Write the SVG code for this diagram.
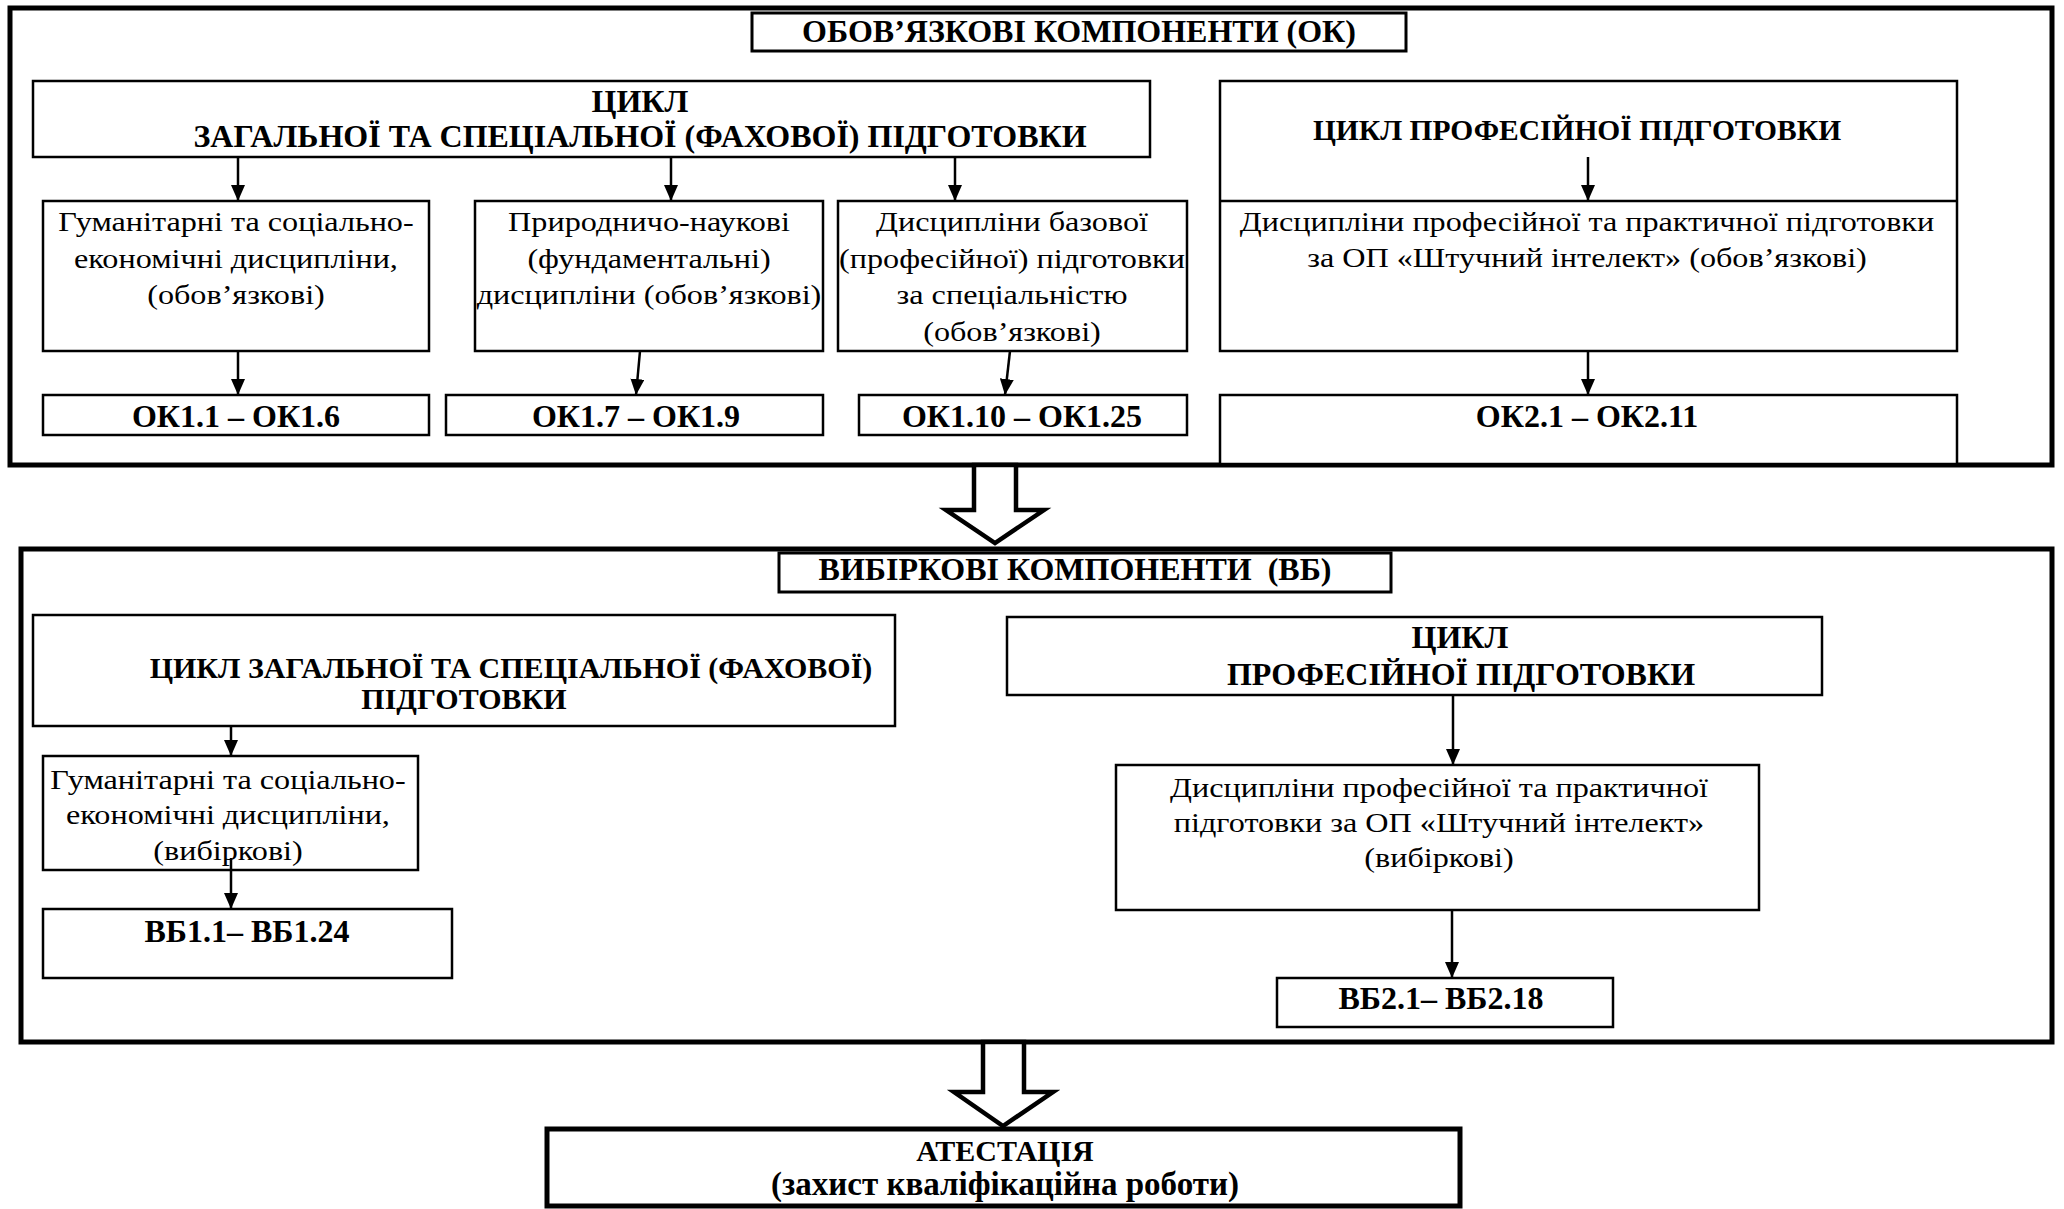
<svg xmlns="http://www.w3.org/2000/svg" width="2064" height="1209" viewBox="0 0 2064 1209">
<style>
.outer{fill:#fff;stroke:#000;stroke-width:5}
.box{fill:#fff;stroke:#000;stroke-width:2.5}
.tbox{fill:#fff;stroke:#000;stroke-width:3}
.hollow{fill:#fff;stroke:#000;stroke-width:4.5;stroke-linejoin:miter}
.b{font-family:"Liberation Serif","Times New Roman",serif;font-weight:bold;font-size:32px;text-anchor:middle;fill:#000}
.r{font-family:"Liberation Serif","Times New Roman",serif;font-size:28px;text-anchor:middle;fill:#000}
.conn line{stroke:#000;stroke-width:2.5;marker-end:url(#ah)}
</style>
<defs>
<marker id="ah" markerUnits="userSpaceOnUse" markerWidth="16" markerHeight="14" refX="16" refY="7" orient="auto">
<path d="M0,0 L16,7 L0,14 z" fill="#000"/>
</marker>
</defs>
<rect width="2064" height="1209" fill="#fff"/>

<g id="ok-section">
<rect class="outer" x="10" y="8" width="2042" height="457"/>
</g>
<g id="ok-title">
<rect class="tbox" x="752" y="13" width="654" height="38"/>
<text class="b" x="1079" y="42">ОБОВ’ЯЗКОВІ КОМПОНЕНТИ (ОК)</text>
</g>
<g id="ok-cycle1">
<rect class="box" x="33" y="81" width="1117" height="76"/>
<text class="b" x="640" y="112">ЦИКЛ</text>
<text class="b" x="640" y="147">ЗАГАЛЬНОЇ ТА СПЕЦІАЛЬНОЇ (ФАХОВОЇ) ПІДГОТОВКИ</text>
</g>
<g id="ok-cycle2">
<rect class="box" x="1220" y="81" width="737" height="270"/>
<line x1="1220" y1="201" x2="1957" y2="201" stroke="#000" stroke-width="2.5"/>
<text class="b" x="1577" y="140" style="font-size:29.5px">ЦИКЛ ПРОФЕСІЙНОЇ ПІДГОТОВКИ</text>
<text class="r" transform="translate(1587 231) scale(1.15 1)">Дисципліни професійної та практичної підготовки</text>
<text class="r" transform="translate(1587 267) scale(1.15 1)">за ОП «Штучний інтелект» (обов’язкові)</text>
</g>
<g id="ok-hum">
<rect class="box" x="43" y="201" width="386" height="150"/>
<text class="r" transform="translate(236 231) scale(1.15 1)">Гуманітарні та соціально-</text>
<text class="r" transform="translate(236 267.5) scale(1.15 1)">економічні дисципліни,</text>
<text class="r" transform="translate(236 304) scale(1.15 1)">(обов’язкові)</text>
</g>
<g id="ok-nat">
<rect class="box" x="475" y="201" width="348" height="150"/>
<text class="r" transform="translate(649 231) scale(1.15 1)">Природничо-наукові</text>
<text class="r" transform="translate(649 267.5) scale(1.15 1)">(фундаментальні)</text>
<text class="r" transform="translate(649 304) scale(1.15 1)">дисципліни (обов’язкові)</text>
</g>
<g id="ok-base">
<rect class="box" x="838" y="201" width="349" height="150"/>
<text class="r" transform="translate(1012 231) scale(1.15 1)">Дисципліни базової</text>
<text class="r" transform="translate(1012 267.5) scale(1.15 1)">(професійної) підготовки</text>
<text class="r" transform="translate(1012 304) scale(1.15 1)">за спеціальністю</text>
<text class="r" transform="translate(1012 340.5) scale(1.15 1)">(обов’язкові)</text>
</g>
<g id="ok1-1">
<rect class="box" x="43" y="395" width="386" height="40"/>
<text class="b" x="236" y="427">ОК1.1 – ОК1.6</text>
</g>
<g id="ok1-7">
<rect class="box" x="446" y="395" width="377" height="40"/>
<text class="b" x="636" y="427">ОК1.7 – ОК1.9</text>
</g>
<g id="ok1-10">
<rect class="box" x="859" y="395" width="328" height="40"/>
<text class="b" x="1022" y="427">ОК1.10 – ОК1.25</text>
</g>
<g id="ok2-1">
<rect class="box" x="1220" y="395" width="737" height="69"/>
<text class="b" x="1587" y="427">ОК2.1 – ОК2.11</text>
</g>

<g id="vb-section">
<rect class="outer" x="21" y="549" width="2031" height="493"/>
</g>
<g id="vb-title">
<rect class="tbox" x="779" y="553" width="612" height="39"/>
<text class="b" x="1075" y="580" xml:space="preserve">ВИБІРКОВІ КОМПОНЕНТИ  (ВБ)</text>
</g>
<g id="vb-cycle1">
<rect class="box" x="33" y="615" width="862" height="111"/>
<text class="b" x="511" y="678" style="font-size:30px">ЦИКЛ ЗАГАЛЬНОЇ ТА СПЕЦІАЛЬНОЇ (ФАХОВОЇ)</text>
<text class="b" x="464" y="709" style="font-size:30px">ПІДГОТОВКИ</text>
</g>
<g id="vb-hum">
<rect class="box" x="43" y="756" width="375" height="114"/>
<text class="r" transform="translate(228 789) scale(1.15 1)">Гуманітарні та соціально-</text>
<text class="r" transform="translate(228 824) scale(1.15 1)">економічні дисципліни,</text>
<text class="r" transform="translate(228 860) scale(1.15 1)">(вибіркові)</text>
</g>
<g id="vb1">
<rect class="box" x="43" y="909" width="409" height="69"/>
<text class="b" x="247" y="942">ВБ1.1– ВБ1.24</text>
</g>
<g id="vb-cycle2">
<rect class="box" x="1007" y="617" width="815" height="78"/>
<text class="b" x="1460" y="648">ЦИКЛ</text>
<text class="b" x="1461" y="685">ПРОФЕСІЙНОЇ ПІДГОТОВКИ</text>
</g>
<g id="vb-prof">
<rect class="box" x="1116" y="765" width="643" height="145"/>
<text class="r" transform="translate(1439 797) scale(1.15 1)">Дисципліни професійної та практичної</text>
<text class="r" transform="translate(1439 832) scale(1.15 1)">підготовки за ОП «Штучний інтелект»</text>
<text class="r" transform="translate(1439 867) scale(1.15 1)">(вибіркові)</text>
</g>
<g id="vb2">
<rect class="box" x="1277" y="978" width="336" height="49"/>
<text class="b" x="1441" y="1009">ВБ2.1– ВБ2.18</text>
</g>

<g id="attest">
<rect class="outer" x="547" y="1129" width="913" height="77"/>
<text class="b" x="1005" y="1161" style="font-size:30px">АТЕСТАЦІЯ</text>
<text class="b" x="1005" y="1195" style="font-size:33px">(захист кваліфікаційна роботи)</text>
</g>

<g id="connectors" class="conn">
<line x1="238" y1="157" x2="238" y2="201"/>
<line x1="671" y1="157" x2="671" y2="201"/>
<line x1="955" y1="157" x2="955" y2="201"/>
<line x1="238" y1="351" x2="238" y2="395"/>
<line x1="640" y1="351" x2="636" y2="395"/>
<line x1="1010" y1="351" x2="1005" y2="395"/>
<line x1="1588" y1="157" x2="1588" y2="201"/>
<line x1="1588" y1="351" x2="1588" y2="395"/>
<line x1="231" y1="726" x2="231" y2="756"/>
<line x1="231" y1="858" x2="231" y2="909"/>
<line x1="1453" y1="695" x2="1453" y2="765"/>
<line x1="1452" y1="910" x2="1452" y2="978"/>
<polygon class="hollow" points="974,465 974,510 946,510 995,543 1044,510 1016,510 1016,465"/>
<polygon class="hollow" points="983,1042 983,1092 954,1092 1003,1126 1053,1092 1024,1092 1024,1042"/>
</g>
</svg>
